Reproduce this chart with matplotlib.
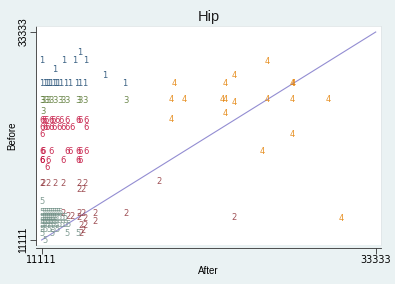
import matplotlib
matplotlib.use("Agg")
import matplotlib.pyplot as plt

# ---------------- data ----------------
g1_x = [13665, 11118, 12601, 13332, 14064, 12002, 15328,
        11118, 11337, 11470, 11603, 11736, 11936, 12069, 12202, 12401, 12734, 13000, 13465, 13665, 13998, 16658]
g1_y = [31090, 30235, 30235, 30235, 30235, 29274, 28633,
        27778, 27778, 27778, 27778, 27778, 27778, 27778, 27778, 27778, 27778, 27778, 27778, 27778, 27778, 27778]

g3_x = [11118, 11224, 11404, 11557, 11736, 12002, 12335, 12554, 12820, 13552, 13665, 13998, 16705, 11204]
g3_y = [25962] * 13 + [24787]

g4_x = [26122, 23928, 19917, 23309, 27760, 27880, 19737, 20629, 23156, 23309, 23928,
        26122, 27812, 30160, 23309, 19737, 27785, 25770, 31071]
g4_y = [30129, 28665, 27778, 27778, 27853, 27853, 26069, 26069, 26069, 26069, 25780,
        26069, 26069, 26069, 24648, 23932, 22404, 20513, 13461]

g6_x = [11118, 11271, 11404, 11716, 11849, 12115, 12401, 12820, 13552, 13665, 14064,
        11118, 11337, 11490, 11716, 11956, 12248, 12554, 12820, 13133, 14064,
        11118,
        11118, 11224, 11716, 12820, 13000, 13552, 13665, 14064,
        11118, 11160, 11557, 12554, 13552, 13665,
        11490]
g6_y = [23825] * 11 + [23077] * 10 + [22404] + [20545] * 8 + [19658] * 6 + [18836]

g2_x = [11118, 11224, 11557, 12002, 12554, 13618, 13998,
        13618, 13884, 18899, 23928,
        12554, 13599, 13884, 14663, 16705,
        12867, 13113, 13599, 13998, 14663,
        13712, 13998, 13884, 13712]
g2_y = [17169] * 7 + [16453, 16453, 17308, 13568,
        13964, 13964, 13964, 13964, 13964,
        13675, 13675, 13493, 13429, 13066,
        12607, 12607, 12179, 11827]

g5_x = [11118,
        11118, 11271, 11404, 11537, 11670, 11803, 11936, 12069, 12202, 12335,
        11118, 11271, 11404, 11537, 11670, 11803, 11936, 12069, 12268, 12468, 12667,
        11118, 11271, 11404, 11537, 11670, 11803, 12002,
        11118, 11271, 11470, 11670, 11869, 12069, 12268, 12468, 12667, 12867,
        11118, 11337, 11603, 11869, 12135,
        11118, 11783, 12780, 13552,
        11337]
g5_y = ([15203] + [13996] * 10 + [13568] * 11 + [13141] * 7 + [12714] * 10 +
        [12286] * 5 + [11827] * 4 + [11036])

line_x = [11111, 33333]
line_y = [11111, 33333]

groups = [("1", g1_x, g1_y, "#1a476f"),
          ("3", g3_x, g3_y, "#55752f"),
          ("4", g4_x, g4_y, "#e37e00"),
          ("6", g6_x, g6_y, "#c10534"),
          ("2", g2_x, g2_y, "#90353b"),
          ("5", g5_x, g5_y, "#6e8e84")]

title = "Hip"
xlabel = "After"
ylabel = "Before"
ticks = [11111, 33333]
tick_labels = ["11111", "33333"]

# ---------------- figure ----------------
fig = plt.figure(figsize=(3.95, 2.84), dpi=100, facecolor="#eaf2f3")
ax = fig.add_axes([36 / 395, 1 - 245 / 284, 345 / 395, 219 / 284])
ax.set_facecolor("white")

for lab, xs, ys, col in groups:
    for x, y in zip(xs, ys):
        ax.text(x, y, lab, color=col, fontsize=6, ha="center", va="center",
                family="DejaVu Sans", alpha=0.85)

ax.plot(line_x, line_y, color="#938dd2", lw=0.8)

ax.set_xlim(10739, 33685)
ax.set_ylim(10577, 33974)

ax.set_xticks(ticks)
ax.set_xticklabels(tick_labels)
ax.set_yticks(ticks)
ax.set_yticklabels(tick_labels, rotation=90, va="center")
ax.tick_params(length=4, width=0.6, color="#333333", pad=1.5, labelsize=7)
for t in ax.get_xticklabels() + ax.get_yticklabels():
    t.set_family("Liberation Sans")
    t.set_fontsize(7.5)

for s in ["top", "right"]:
    ax.spines[s].set_color("#e0e6e8")
    ax.spines[s].set_linewidth(0.6)
ax.spines["left"].set_color("#333333")
ax.spines["left"].set_linewidth(0.6)
ax.spines["bottom"].set_color("#333333")
ax.spines["bottom"].set_linewidth(0.6)
ax.spines["bottom"].set_position(("outward", 2))

ax.set_xlabel(xlabel, fontsize=7, family="Liberation Sans", labelpad=0.5)
ax.set_ylabel(ylabel, fontsize=7, family="Liberation Sans", labelpad=1)
fig.text(208.5 / 395, 1 - 17 / 284, title, fontsize=10.5, family="Liberation Sans",
         ha="center", va="center", color="#1e1e1e")

fig.savefig("out.png", dpi=100, facecolor=fig.get_facecolor())
